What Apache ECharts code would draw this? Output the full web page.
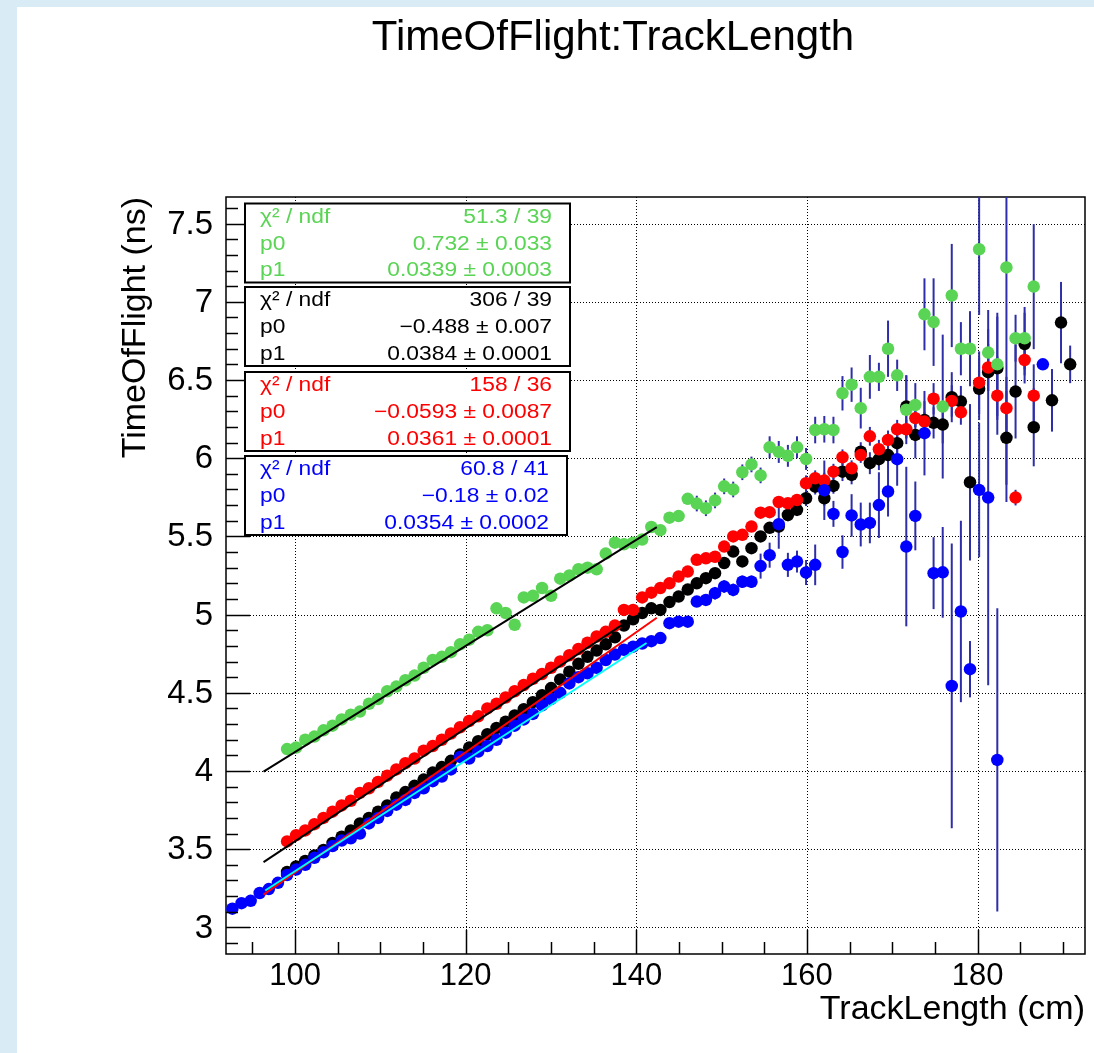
<!DOCTYPE html>
<html>
<head>
<meta charset="utf-8">
<script src="https://cdn.jsdelivr.net/npm/echarts@6/dist/echarts.min.js"></script>
<style>
  html, body { margin: 0; padding: 0; background: #ffffff; }
  #main { width: 1094px; height: 1053px; }
</style>
</head>
<body>
<div id="main"></div>
<script>
// Profile bin centres along TrackLength (cm)
const trackLength = [
  92.65, 93.72, 94.79, 95.85, 96.92, 97.99, 99.06, 100.12, 101.19, 102.26,
  103.33, 104.39, 105.46, 106.53, 107.60, 108.66, 109.73, 110.80, 111.87, 112.93,
  114.00, 115.07, 116.14, 117.20, 118.27, 119.34, 120.41, 121.47, 122.54, 123.61,
  124.68, 125.74, 126.81, 127.88, 128.95, 130.01, 131.08, 132.15, 133.22, 134.28,
  135.35, 136.42, 137.49, 138.55, 139.62, 140.69, 141.76, 142.82, 143.89, 144.96,
  146.03, 147.09, 148.16, 149.23, 150.30, 151.36, 152.43, 153.50, 154.57, 155.63,
  156.70, 157.77, 158.84, 159.90, 160.97, 162.04, 163.11, 164.17, 165.24, 166.31,
  167.38, 168.44, 169.51, 170.58, 171.65, 172.71, 173.78, 174.85, 175.92, 176.98,
  178.05, 179.12, 180.19, 181.25, 182.32, 183.39, 184.46, 185.52, 186.59, 187.66,
  188.73, 189.79, 190.86, 191.93
];

// Mean TimeOfFlight (ns) per bin, with the error on the mean
const tofBlack = [
  null, null, null, null, null, null, 3.355, 3.39, 3.425, 3.46,
  3.495, 3.54, 3.58, 3.62, 3.665, 3.70, 3.74, 3.78, 3.83, 3.865,
  3.905, 3.945, 3.99, 4.025, 4.065, 4.105, 4.15, 4.19, 4.235, 4.275,
  4.315, 4.355, 4.395, 4.44, 4.485, 4.53, 4.585, 4.635, 4.685, 4.73,
  4.77, 4.81, 4.855, 4.93, 4.97, 5.01, 5.04, 5.03, 5.08, 5.115,
  5.16, 5.20, 5.233, 5.265, 5.33, 5.403, 5.34, 5.425, 5.50, 5.555,
  5.563, 5.637, 5.67, 5.744, 5.818, 5.744, 5.823, 5.914, 5.893, 6.042,
  5.968, 5.994, 6.02, 6.096, 6.33, 6.149, 6.245, 6.226, 6.215, 6.39,
  6.362, 5.846, 6.444, 6.55, 6.575, 6.13, 6.426, 6.73, 6.198, null,
  6.37, 6.867, 6.60, null
];
const errBlack = [
  0, 0, 0, 0, 0, 0, 0.01, 0.01, 0.01, 0.01,
  0.01, 0.01, 0.01, 0.01, 0.01, 0.01, 0.01, 0.01, 0.01, 0.01,
  0.01, 0.01, 0.01, 0.01, 0.01, 0.01, 0.01, 0.01, 0.01, 0.01,
  0.01, 0.01, 0.01, 0.01, 0.01, 0.01, 0.01, 0.01, 0.01, 0.01,
  0.01, 0.01, 0.01, 0.01, 0.01, 0.01, 0.02, 0.02, 0.02, 0.02,
  0.02, 0.02, 0.03, 0.03, 0.03, 0.03, 0.03, 0.03, 0.03, 0.03,
  0.04, 0.04, 0.04, 0.05, 0.05, 0.05, 0.05, 0.06, 0.06, 0.06,
  0.07, 0.07, 0.08, 0.08, 0.20, 0.15, 0.12, 0.10, 0.12, 0.16,
  0.10, 0.50, 0.20, 0.12, 0.33, 0.30, 0.30, 0.20, 0.25, 0,
  0.20, 0.26, 0.12, 0
];

const tofRed = [
  null, null, null, null, null, null, 3.55, 3.59, 3.62, 3.66,
  3.70, 3.74, 3.78, 3.81, 3.86, 3.89, 3.93, 3.97, 4.01, 4.05,
  4.08, 4.13, 4.16, 4.20, 4.24, 4.28, 4.32, 4.35, 4.40, 4.43,
  4.47, 4.51, 4.55, 4.59, 4.62, 4.66, 4.70, 4.74, 4.78, 4.82,
  4.86, 4.89, 4.93, 5.03, 5.03, 5.11, 5.14, 5.17, 5.20, 5.243,
  5.275, 5.35, 5.36, 5.37, 5.435, 5.50, 5.51, 5.563, 5.652, 5.655,
  5.72, 5.712, 5.733, 5.84, 5.872, 5.857, 5.914, 6.006, 5.936, 6.02,
  6.14, 6.057, 6.117, 6.185, 6.185, 6.256, 6.234, 6.38, null, 6.366,
  6.294, null, 6.483, 6.58, 6.40, 6.32, 5.748, 6.628, 6.40, null,
  null, null, null, null
];
const errRed = [
  0, 0, 0, 0, 0, 0, 0.01, 0.01, 0.01, 0.01,
  0.01, 0.01, 0.01, 0.01, 0.01, 0.01, 0.01, 0.01, 0.01, 0.01,
  0.01, 0.01, 0.01, 0.01, 0.01, 0.01, 0.01, 0.01, 0.01, 0.01,
  0.01, 0.01, 0.01, 0.01, 0.01, 0.01, 0.01, 0.01, 0.01, 0.01,
  0.01, 0.01, 0.01, 0.01, 0.01, 0.01, 0.01, 0.01, 0.01, 0.01,
  0.03, 0.03, 0.03, 0.03, 0.03, 0.03, 0.03, 0.03, 0.03, 0.03,
  0.03, 0.03, 0.03, 0.05, 0.05, 0.05, 0.05, 0.05, 0.05, 0.05,
  0.06, 0.06, 0.06, 0.06, 0.06, 0.06, 0.06, 0.10, 0, 0.10,
  0.08, 0, 0.20, 0.15, 0.25, 0.20, 0.05, 0.15, 0.20, 0,
  0, 0, 0, 0
];

const tofGreen = [
  null, null, null, null, null, null, 4.14, 4.15, 4.20, 4.22,
  4.26, 4.29, 4.33, 4.36, 4.38, 4.43, 4.46, 4.51, 4.54, 4.58,
  4.61, 4.66, 4.71, 4.73, 4.76, 4.81, 4.84, 4.89, 4.90, 5.04,
  5.01, 4.935, 5.11, 5.12, 5.17, 5.12, 5.23, 5.25, 5.29, 5.30,
  5.29, 5.39, 5.46, 5.45, 5.46, 5.48, 5.56, 5.54, 5.62, 5.63,
  5.74, 5.71, 5.68, 5.73, 5.82, 5.80, 5.91, 5.96, 5.89, 6.07,
  6.04, 6.015, 6.07, 5.995, 6.18, 6.185, 6.18, 6.415, 6.47, 6.32,
  6.52, 6.52, 6.70, 6.53, 6.31, 6.34, 6.92, 6.87, 6.33, 7.04,
  6.70, 6.70, 7.336, 6.675, 6.60, 7.22, 6.767, 6.767, 7.097, null,
  null, null, null, null
];
const errGreen = [
  0, 0, 0, 0, 0, 0, 0.01, 0.01, 0.01, 0.01,
  0.01, 0.01, 0.01, 0.01, 0.01, 0.01, 0.01, 0.01, 0.01, 0.01,
  0.02, 0.02, 0.02, 0.02, 0.02, 0.02, 0.02, 0.02, 0.02, 0.02,
  0.02, 0.02, 0.02, 0.02, 0.02, 0.02, 0.02, 0.02, 0.02, 0.02,
  0.03, 0.03, 0.03, 0.03, 0.03, 0.03, 0.03, 0.03, 0.03, 0.03,
  0.03, 0.05, 0.05, 0.05, 0.05, 0.05, 0.05, 0.05, 0.05, 0.07,
  0.07, 0.07, 0.07, 0.07, 0.085, 0.085, 0.085, 0.11, 0.11, 0.13,
  0.14, 0.09, 0.18, 0.10, 0.22, 0.14, 0.23, 0.28, 0.46, 0.33,
  0.17, 0.24, 0.42, 0.15, 0.33, 1.50, 0.15, 0.20, 0.40, 0,
  0, 0, 0, 0
];

const tofBlue = [
  3.12, 3.155, 3.17, 3.22, 3.245, 3.285, 3.335, 3.37, 3.40, 3.445,
  3.48, 3.52, 3.555, 3.57, 3.60, 3.665, 3.70, 3.745, 3.785, 3.815,
  3.86, 3.89, 3.935, 3.965, 4.01, 4.09, 4.08, 4.125, 4.16, 4.20,
  4.245, 4.29, 4.33, 4.365, 4.42, 4.46, 4.50, 4.56, 4.60, 4.625,
  4.66, 4.71, 4.745, 4.775, 4.795, 4.815, 4.83, 4.85, 4.945, 4.955,
  4.955, 5.083, 5.094, 5.137, 5.18, 5.158, 5.21, 5.21, 5.31, 5.38,
  5.578, 5.318, 5.339, 5.269, 5.318, 5.795, 5.644, 5.40, 5.634, 5.576,
  5.586, 5.70, 5.787, 5.994, 5.435, 5.631, 6.16, 5.265, 5.27, 4.544,
  5.02, 4.651, 5.797, 5.748, 4.071, null, null, null, null, 6.60,
  null, null, null, null
];
const errBlue = [
  0.01, 0.01, 0.01, 0.01, 0.01, 0.01, 0.01, 0.01, 0.01, 0.01,
  0.01, 0.01, 0.01, 0.01, 0.01, 0.01, 0.01, 0.01, 0.01, 0.01,
  0.01, 0.01, 0.01, 0.01, 0.01, 0.01, 0.01, 0.01, 0.01, 0.01,
  0.015, 0.015, 0.015, 0.015, 0.015, 0.015, 0.015, 0.015, 0.015, 0.015,
  0.015, 0.015, 0.015, 0.015, 0.015, 0.02, 0.02, 0.02, 0.03, 0.03,
  0.03, 0.03, 0.03, 0.04, 0.04, 0.04, 0.04, 0.04, 0.08, 0.08,
  0.157, 0.077, 0.07, 0.08, 0.13, 0.19, 0.083, 0.107, 0.136, 0.14,
  0.13, 0.21, 0.16, 0.17, 0.51, 0.22, 0.27, 0.23, 0.29, 0.91,
  0.58, 0.18, 0.43, 1.20, 0.97, 0, 0, 0, 0, 0,
  0, 0, 0, 0
];

// Straight-line fits pol1: p0 + p1*x, in the order black, red, green, blue
const fitChi2 = ['306 / 39', '158 / 36', '51.3 / 39', '60.8 / 41'];
const fitP0 = ['\u22120.488', '\u22120.0593', '0.732', '\u22120.18'];
const fitP0Err = ['0.007', '0.0087', '0.033', '0.02'];
const fitP1 = ['0.0384', '0.0361', '0.0339', '0.0354'];
const fitP1Err = ['0.0001', '0.0001', '0.0003', '0.0002'];
const fitFrom = [96.3, 96.3, 96.3, 96.5];
const fitTo = [142.4, 139.0, 142.4, 141.2];

// Axis ticks
const xMajorTicks = [100, 120, 140, 160, 180];
const yMajorTicks = [3, 3.5, 4, 4.5, 5, 5.5, 6, 6.5, 7, 7.5];
const yTickLabels = ['3', '3.5', '4', '4.5', '5', '5.5', '6', '6.5', '7', '7.5'];
const xRange = [91.9, 192.6];
const yRange = [2.83, 7.67];

const FONT = '"Liberation Sans", Arial, Helvetica, sans-serif';
const ERR_COLOR = '#2e2ea8';
const COLORS = { black: '#000000', red: '#ff0000', green: '#59d454', blue: '#0000ff', cyan: '#00ffff' };

const num = s => parseFloat(String(s).replace('\u2212', '-'));

function pointData(vals) {
  const out = [];
  vals.forEach((v, i) => { if (v != null) out.push([trackLength[i], v]); });
  return out;
}
function errorData(vals, errs) {
  const out = [];
  vals.forEach((v, i) => { if (v != null && errs[i] > 0) out.push([trackLength[i], v, errs[i]]); });
  return out;
}
function fitData(i) {
  const p0 = num(fitP0[i]), p1 = num(fitP1[i]);
  return [[fitFrom[i], p0 + p1 * fitFrom[i]], [fitTo[i], p0 + p1 * fitTo[i]]];
}

function errorSeries(vals, errs) {
  return {
    type: 'custom', coordinateSystem: 'cartesian2d', clip: true, silent: true,
    data: errorData(vals, errs), encode: { x: 0, y: 1 },
    renderItem: (params, api) => {
      const x = api.value(0), y = api.value(1), e = api.value(2);
      const a = api.coord([x, y - e]), b = api.coord([x, y + e]);
      return { type: 'line', shape: { x1: a[0], y1: a[1], x2: b[0], y2: b[1] },
               style: { stroke: ERR_COLOR, lineWidth: 2 } };
    }
  };
}
function markerSeries(vals, color) {
  return {
    type: 'scatter', data: pointData(vals), symbol: 'circle', symbolSize: 12.5,
    itemStyle: { color: color, opacity: 1 }, silent: true, clip: true
  };
}
function fitSeries(i, color) {
  return {
    type: 'line', data: fitData(i), symbol: 'none', silent: true,
    lineStyle: { color: color, width: 2 }
  };
}

function textEl(text, x, y, size, align, vAlign, extra) {
  return Object.assign({
    type: 'text',
    style: { text: text, x: x, y: y, fill: '#000', font: size + 'px ' + FONT,
             textAlign: align, textVerticalAlign: vAlign, align: align, verticalAlign: vAlign }
  }, extra || {});
}

// Dotted grid at the major ticks
const gridSeries = {
  type: 'custom', coordinateSystem: 'cartesian2d', clip: false, silent: true, z: 1,
  data: [[xRange[0], yRange[0]]],
  renderItem: (params, api) => {
    const children = [];
    const dash = { stroke: '#000', lineWidth: 1, lineDash: [1, 2] };
    xMajorTicks.forEach(v => {
      const a = api.coord([v, yRange[0]]), b = api.coord([v, yRange[1]]);
      children.push({ type: 'line', shape: { x1: Math.round(a[0]) + 0.5, y1: a[1], x2: Math.round(b[0]) + 0.5, y2: b[1] }, style: dash });
    });
    yMajorTicks.forEach(v => {
      const a = api.coord([xRange[0], v]), b = api.coord([xRange[1], v]);
      children.push({ type: 'line', shape: { x1: a[0], y1: Math.round(a[1]) + 0.5, x2: b[0], y2: Math.round(b[1]) + 0.5 }, style: dash });
    });
    return { type: 'group', children: children };
  }
};

// Tick marks and tick labels on the left and bottom axes
const axisSeries = {
  type: 'custom', coordinateSystem: 'cartesian2d', clip: false, silent: true, z: 10,
  data: [[xRange[0], yRange[0]]],
  renderItem: (params, api) => {
    const children = [];
    const solid = { stroke: '#000', lineWidth: 1.5 };
    const y0 = api.coord([xRange[0], yRange[0]])[1];
    const x0 = api.coord([xRange[0], yRange[0]])[0];
    for (let v = 95; v <= 190; v += 5) {
      const major = xMajorTicks.indexOf(v) >= 0;
      const px = Math.round(api.coord([v, yRange[0]])[0]) + 0.5;
      children.push({ type: 'line', shape: { x1: px, y1: y0, x2: px, y2: y0 - (major ? 24 : 12) }, style: solid });
    }
    for (let i = 29; i <= 76; i++) {
      const v = i / 10;
      const major = (i % 5) === 0;
      const py = Math.round(api.coord([xRange[0], v])[1]) + 0.5;
      children.push({ type: 'line', shape: { x1: x0, y1: py, x2: x0 + (major ? 24 : 12), y2: py }, style: solid });
    }
    xMajorTicks.forEach(v => {
      const p = api.coord([v, yRange[0]]);
      children.push(textEl(String(v), p[0], y0 + 22, 31, 'center', 'middle'));
    });
    yMajorTicks.forEach((v, i) => {
      const p = api.coord([xRange[0], v]);
      children.push(textEl(yTickLabels[i], x0 - 13, p[1] + 1, 33, 'right', 'middle'));
    });
    return { type: 'group', children: children };
  }
};

// Fit statistics boxes, top-left of the frame
const boxColors = [COLORS.green, COLORS.black, COLORS.red, COLORS.blue];
const boxOrder = [2, 0, 1, 3];
const boxTops = [203.5, 287, 372, 456];
const boxWidths = [325, 325, 325, 322];
const graphics = [
  { type: 'rect', shape: { x: 0, y: 0, width: 1094, height: 7 }, style: { fill: '#d9ecf5' }, silent: true },
  { type: 'rect', shape: { x: 0, y: 0, width: 17, height: 1053 }, style: { fill: '#d9ecf5' }, silent: true },
  textEl('TimeOfFlight:TrackLength', 613, 38, 42, 'center', 'middle'),
  textEl('TrackLength (cm)', 1085, 1010, 34, 'right', 'middle'),
  textEl('TimeOfFlight (ns)', 0, 0, 34, 'right', 'middle', { x: 136, y: 197, rotation: Math.PI / 2 })
];
boxOrder.forEach((fi, b) => {
  const top = boxTops[b], left = 245, w = boxWidths[b], color = boxColors[b];
  const right = left + w - 18;
  graphics.push({ type: 'rect', shape: { x: left, y: top, width: w, height: 79 },
                  style: { fill: '#fff', stroke: '#000', lineWidth: 2 }, z: 20, silent: true });
  const rows = [
    ['\u03c7\u00b2 / ndf', fitChi2[fi]],
    ['p0', fitP0[fi] + ' \u00b1 ' + fitP0Err[fi]],
    ['p1', fitP1[fi] + ' \u00b1 ' + fitP1Err[fi]]
  ];
  const offs = [13.5, 40.5, 67];
  rows.forEach((r, j) => {
    const l = textEl(r[0], 0, 0, 20, 'left', 'middle', { x: 260, y: top + offs[j], scaleX: 1.14, z: 21 });
    l.style.fill = color;
    const rt = textEl(r[1], 0, 0, 20, 'right', 'middle', { x: right, y: top + offs[j], scaleX: 1.14, z: 21 });
    rt.style.fill = color;
    graphics.push(l, rt);
  });
});

const chart = echarts.init(document.getElementById('main'), null, { renderer: 'canvas' });
chart.setOption({
  animation: false,
  backgroundColor: '#ffffff',
  grid: { left: 226, top: 197, width: 859, height: 757, show: true, borderColor: '#000', borderWidth: 1.5, backgroundColor: 'transparent' },
  xAxis: { type: 'value', min: xRange[0], max: xRange[1], show: false },
  yAxis: { type: 'value', min: yRange[0], max: yRange[1], show: false },
  graphic: graphics,
  series: [
    gridSeries,
    errorSeries(tofBlack, errBlack), markerSeries(tofBlack, COLORS.black), fitSeries(0, COLORS.red),
    errorSeries(tofRed, errRed), markerSeries(tofRed, COLORS.red), fitSeries(1, COLORS.black),
    errorSeries(tofGreen, errGreen), markerSeries(tofGreen, COLORS.green), fitSeries(2, COLORS.black),
    errorSeries(tofBlue, errBlue), markerSeries(tofBlue, COLORS.blue), fitSeries(3, COLORS.cyan),
    axisSeries
  ]
});
</script>
</body>
</html>
